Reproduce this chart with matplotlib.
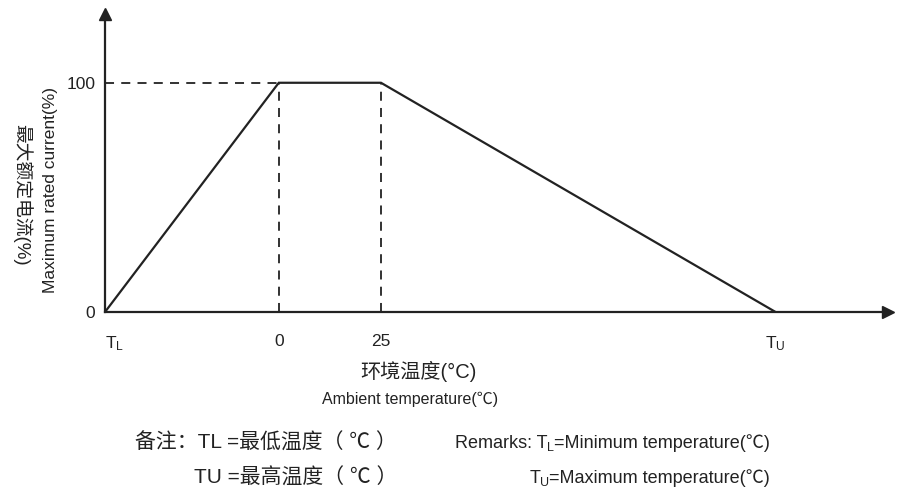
import matplotlib
matplotlib.use("Agg")
import matplotlib.pyplot as plt
from matplotlib import font_manager

# ---- data ----
temp_labels = ['T$_\\mathregular{L}$', '0', '25', 'T$_\\mathregular{U}$']
temp_x = [-42.5, 0, 25, 121.5]          # schematic temperature positions (°C)
current_pct = [0, 100, 100, 0]          # max rated current (%)
y_ticks = [0, 100]
y_tick_labels = ['0', '100']

installed = {f.name for f in font_manager.fontManager.ttflist}
latin = 'Liberation Sans Narrow' if 'Liberation Sans Narrow' in installed else 'Liberation Sans'
fams = [latin, 'Noto Sans CJK SC', 'DejaVu Sans']
plt.rcParams['font.family'] = fams
plt.rcParams['mathtext.fontset'] = 'custom'
plt.rcParams['mathtext.rm'] = latin
plt.rcParams['mathtext.it'] = latin

W, H = 902, 496
fig = plt.figure(figsize=(W / 100, H / 100), dpi=100)
fig.patch.set_facecolor('white')

x0, x1 = 105, 888
y0, y1 = 312, 14
ax = fig.add_axes([x0 / W, 1 - y0 / H, (x1 - x0) / W, (y0 - y1) / H])
ax.set_xlim(temp_x[0], 149)
ax.set_ylim(0, 130)

col = '#222222'
ax.plot(temp_x, current_pct, color=col, lw=1.6, solid_joinstyle='miter')
ax.plot([temp_x[0], temp_x[1]], [current_pct[1], current_pct[1]], color=col, lw=1.3, ls=(0, (5, 4)))
for tx, cp in zip(temp_x[1:3], current_pct[1:3]):
    ax.plot([tx, tx], [0, cp], color=col, lw=1.3, ls=(0, (5, 4)))

for s in ['top', 'right']:
    ax.spines[s].set_visible(False)
for s in ['left', 'bottom']:
    ax.spines[s].set_color(col)
    ax.spines[s].set_linewidth(1.6)
ax.plot(1, 0, '>', color=col, ms=9, transform=ax.transAxes, clip_on=False)
ax.plot(0, 1, '^', color=col, ms=9, transform=ax.transAxes, clip_on=False)

ax.set_xticks(temp_x)
ax.set_xticklabels(temp_labels, fontsize=12.5)
ax.set_yticks(y_ticks)
ax.set_yticklabels(y_tick_labels, fontsize=12.5)
ax.tick_params(axis='x', length=0, pad=16, colors=col)
ax.tick_params(axis='y', length=0, pad=7, colors=col)
ax.get_xticklabels()[0].set_horizontalalignment('left')

# y label (two lines)
fig.text(22 / W, 1 - 195 / H, '最大额定电流(%)', rotation=-90, ha='center', va='center', fontsize=13.5, color=col)
fig.text(51 / W, 1 - 190 / H, 'Maximum rated current(%)', rotation=90, ha='center', va='center', fontsize=12.5, color=col)

# x label
fig.text(418 / W, 1 - 371 / H, '环境温度(°C)', ha='center', va='center', fontsize=14.5, color=col)
fig.text(410 / W, 1 - 399 / H, 'Ambient temperature(℃)', ha='center', va='center', fontsize=11.5, color=col)

# remarks (Chinese)
fig.text(397 / W, 1 - 443 / H, '备注：TL =最低温度（ ℃ ）', ha='right', va='center', fontsize=15, color=col)
fig.text(397 / W, 1 - 478 / H, 'TU =最高温度（ ℃ ）', ha='right', va='center', fontsize=15, color=col)

# remarks (English) with subscripts, built from segments right to left
renderer = fig.canvas.get_renderer()


def seg_text(x_right, y_base, segments):
    x = x_right
    for s, size, dy in reversed(segments):
        t = fig.text(x / W, 1 - (y_base + dy) / H, s, ha='right', va='baseline',
                     fontsize=size, color=col)
        bb = t.get_window_extent(renderer)
        x = bb.x0


seg_text(770, 448, [('Remarks: T', 13, 0), ('L', 9, 3), ('=Minimum temperature(℃)', 13, 0)])
seg_text(770, 483, [('T', 13, 0), ('U', 9, 3), ('=Maximum temperature(℃)', 13, 0)])

fig.savefig('out.png', dpi=100, facecolor='white')
